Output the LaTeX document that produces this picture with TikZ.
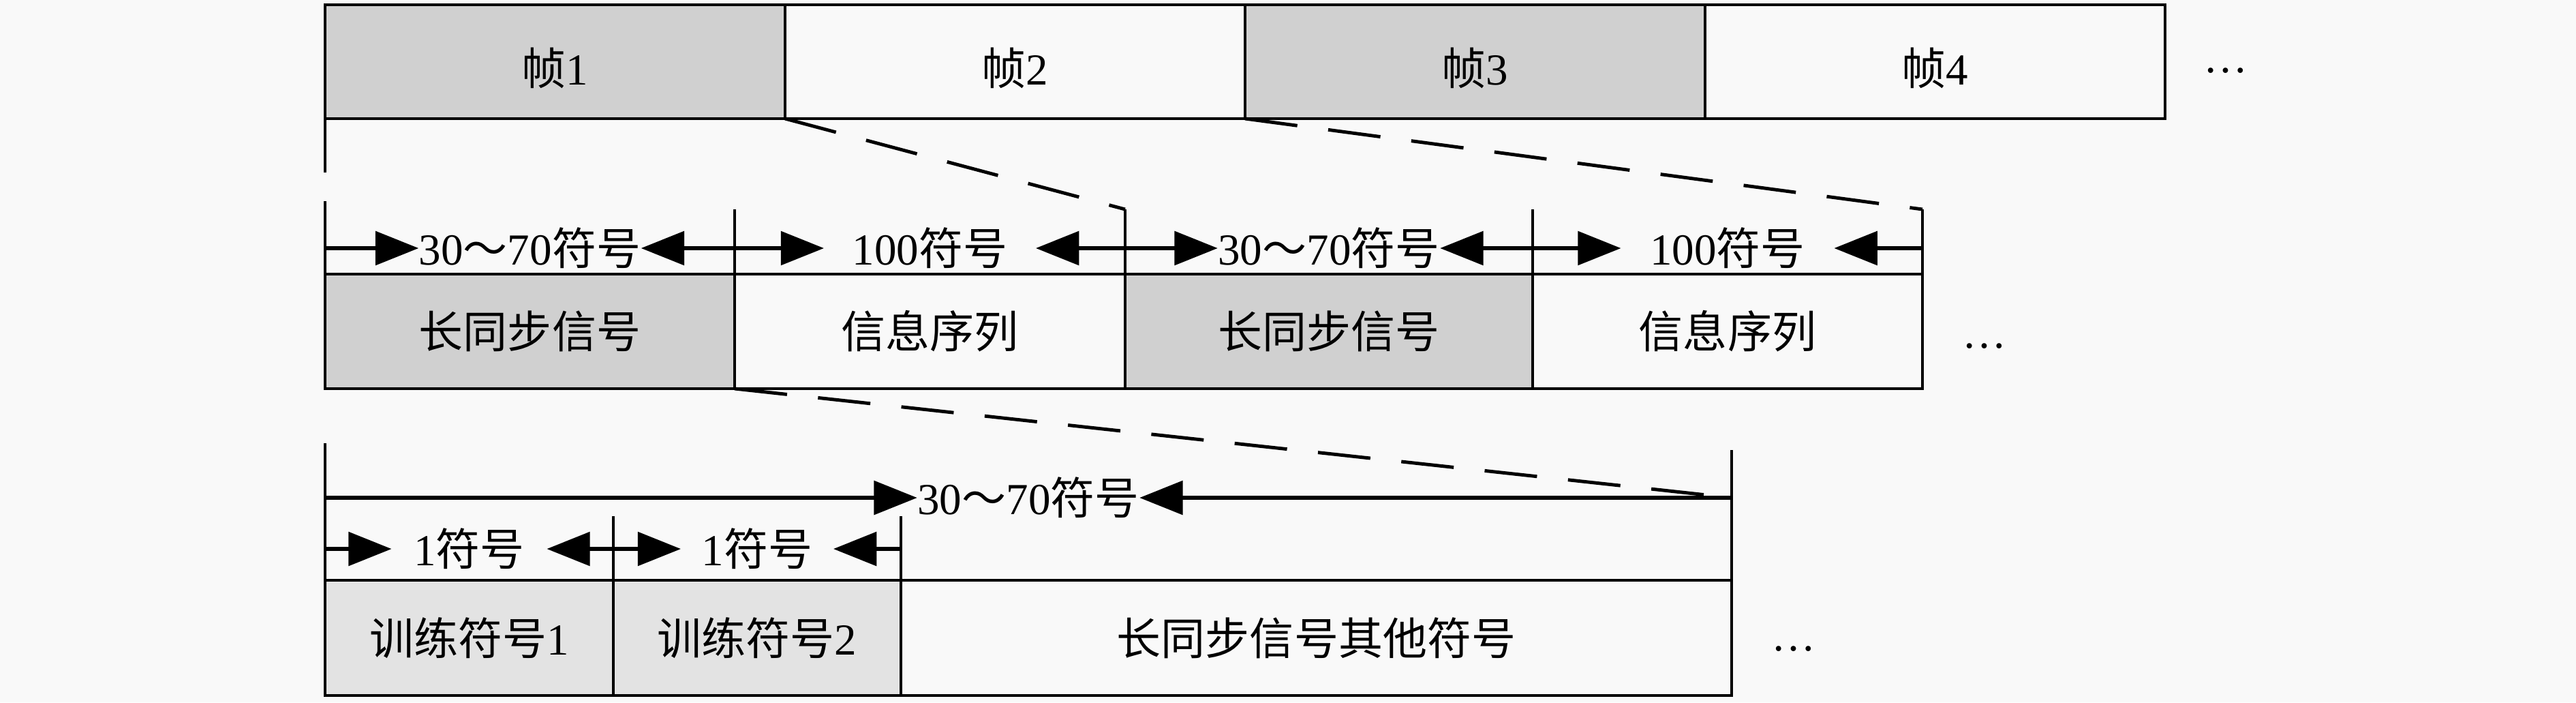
\documentclass[tikz,border=0pt]{standalone}
\usepackage{fontspec}
\setmainfont{Liberation Serif}
\newfontfamily\cjk{Noto Sans CJK SC}
\usetikzlibrary{arrows.meta,positioning}

\definecolor{paper}{RGB}{249,249,249}
\definecolor{syncgray}{RGB}{208,208,208}
\definecolor{traingray}{RGB}{227,227,227}

\tikzset{
  cell/.style={draw,line width=1.1pt,outer sep=0pt,inner sep=0pt,
    anchor=north west,font=\fontsize{18.5}{22}\selectfont},
  framebox/.style={cell,minimum width=6.75cm,minimum height=1.67cm,
    text height=0.77cm,text depth=0.1cm},
  syncbox/.style={cell,minimum height=1.68cm},
  trainbox/.style={cell,minimum height=1.69cm},
  tickline/.style={line width=1pt},
  dimarrow/.style={line width=1.5pt,-{Triangle[length=18pt,width=14pt]}},
  dimlabel/.style={inner sep=0pt,font=\fontsize{18.5}{22}\selectfont},
  zoomline/.style={line width=1.4pt,dash pattern=on 22pt off 13pt},
  moredots/.style={inner sep=0pt,font=\fontsize{18.5}{22}\selectfont}
}

\begin{document}
\begin{tikzpicture}[x=1cm,y=-1cm]
\fill[paper] (0,0) rectangle (37.8,10.3);
\useasboundingbox (0,0) rectangle (37.8,10.3);

% frames
\node[framebox,fill=syncgray] (f1) at (4.77,0.07) {{\cjk 帧}1};
\node[framebox,right=0pt of f1] (f2) {{\cjk 帧}2};
\node[framebox,fill=syncgray,right=0pt of f2] (f3) {{\cjk 帧}3};
\node[framebox,right=0pt of f3] (f4) {{\cjk 帧}4};
\node[moredots] (more1) at (32.66,1.04) {\dots};
\coordinate[below=0.79cm of f1.south west] (t00);
\draw[tickline] (f1.south west) -- (t00);

% one frame
\node[syncbox,fill=syncgray,minimum width=6.01cm] (s1) at (4.77,4.02) {{\cjk 长同步信号}};
\node[syncbox,minimum width=5.73cm,right=0pt of s1] (s2) {{\cjk 信息序列}};
\node[syncbox,fill=syncgray,minimum width=5.98cm,right=0pt of s2] (s3) {{\cjk 长同步信号}};
\node[syncbox,minimum width=5.72cm,right=0pt of s3] (s4) {{\cjk 信息序列}};
\node[moredots] (more2) at (29.12,5.08) {\dots};

\coordinate[above=1.07cm of s1.north west] (t0);
\coordinate[above=0.95cm of s2.north west] (t1);
\coordinate[above=0.95cm of s3.north west] (t2);
\coordinate[above=0.95cm of s4.north west] (t3);
\coordinate[above=0.95cm of s4.north east] (t4);
\draw[tickline] (t0) -- (s1.north west) (t1) -- (s2.north west)
  (t2) -- (s3.north west) (t3) -- (s4.north west) (t4) -- (s4.north east);

\coordinate[above=0.38cm of s1.north west] (d0);
\coordinate[above=0.38cm of s2.north west] (d1);
\coordinate[above=0.38cm of s3.north west] (d2);
\coordinate[above=0.38cm of s4.north west] (d3);
\coordinate[above=0.38cm of s4.north east] (d4);
\path (d0) -- node[dimlabel] (l1) {30{\cjk ～}70{\cjk 符号}} (d1);
\path (d1) -- node[dimlabel,inner xsep=0.41cm] (l2) {100{\cjk 符号}} (d2);
\path (d2) -- node[dimlabel] (l3) {30{\cjk ～}70{\cjk 符号}} (d3);
\path (d3) -- node[dimlabel,inner xsep=0.42cm] (l4) {100{\cjk 符号}} (d4);
\foreach \a/\b/\l in {d0/d1/l1,d1/d2/l2,d2/d3/l3,d3/d4/l4}{
  \draw[dimarrow] (\a) -- (\l);
  \draw[dimarrow] (\b) -- (\l);
}

% long sync signal
\node[trainbox,fill=traingray,minimum width=4.23cm] (u1) at (4.77,8.51) {{\cjk 训练符号}1};
\node[trainbox,fill=traingray,minimum width=4.22cm,right=0pt of u1] (u2) {{\cjk 训练符号}2};
\node[trainbox,minimum width=12.19cm,right=0pt of u2] (u3) {{\cjk 长同步信号其他符号}};
\node[moredots] (more3) at (26.32,9.52) {\dots};

\coordinate[above=2.01cm of u1.north west] (v0);
\coordinate[above=0.94cm of u2.north west] (v1);
\coordinate[above=0.94cm of u3.north west] (v2);
\coordinate[above=1.91cm of u3.north east] (v3);
\draw[tickline] (v0) -- (u1.north west) (v1) -- (u2.north west)
  (v2) -- (u3.north west) (v3) -- (u3.north east);

\coordinate[above=1.21cm of u1.north west] (e0);
\coordinate[above=1.21cm of u3.north east] (e1);
\path (e0) -- node[dimlabel] (l5) {30{\cjk ～}70{\cjk 符号}} (e1);
\draw[dimarrow] (e0) -- (l5);
\draw[dimarrow] (e1) -- (l5);

\coordinate[above=0.46cm of u1.north west] (c0);
\coordinate[above=0.46cm of u2.north west] (c1);
\coordinate[above=0.46cm of u3.north west] (c2);
\path (c0) -- node[dimlabel,inner xsep=0.32cm] (l6) {1{\cjk 符号}} (c1);
\path (c1) -- node[dimlabel,inner xsep=0.3cm] (l7) {1{\cjk 符号}} (c2);
\foreach \a/\b/\l in {c0/c1/l6,c1/c2/l7}{
  \draw[dimarrow] (\a) -- (\l);
  \draw[dimarrow] (\b) -- (\l);
}

% zoom lines
\draw[zoomline] (f1.south east) -- (t2);
\draw[zoomline] (f2.south east) -- (t4);
\draw[zoomline] (s1.south east) -- (e1);
\end{tikzpicture}
\end{document}
